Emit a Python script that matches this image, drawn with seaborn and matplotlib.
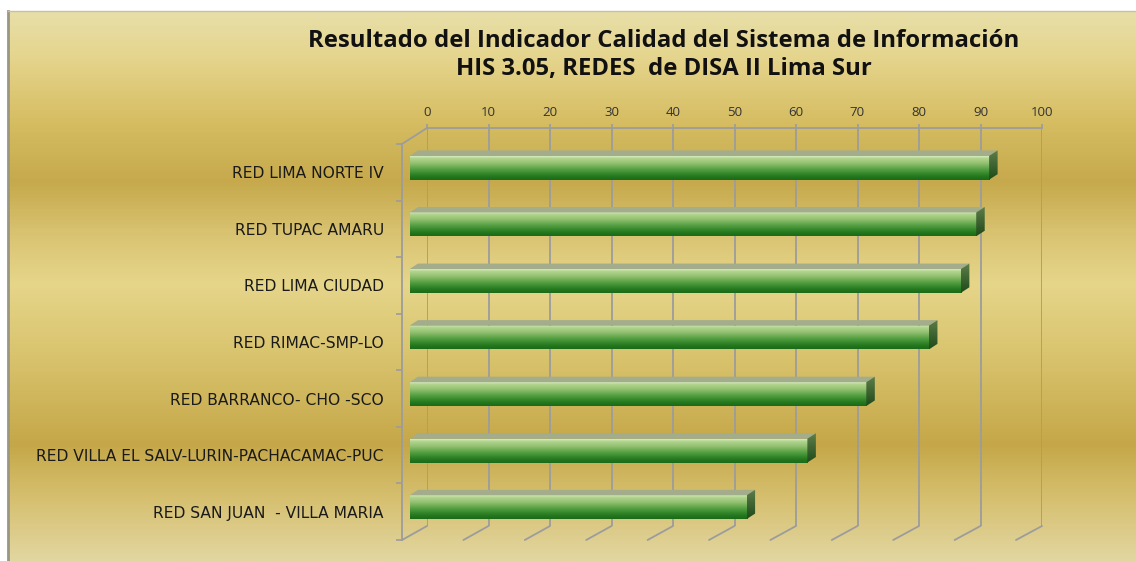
import numpy as np
import pandas as pd
import matplotlib
matplotlib.use("Agg")
import matplotlib.pyplot as plt
import seaborn as sns
from matplotlib.patches import Polygon, ConnectionPatch
from matplotlib.colors import LinearSegmentedColormap

# ---------------- data ----------------
categories = [
    "RED LIMA NORTE IV",
    "RED TUPAC AMARU",
    "RED LIMA CIUDAD",
    "RED RIMAC-SMP-LO",
    "RED BARRANCO- CHO -SCO",
    "RED VILLA EL SALV-LURIN-PACHACAMAC-PUC",
    "RED SAN JUAN  - VILLA MARIA",
]
values = [94.4, 92.3, 89.8, 84.6, 74.4, 64.8, 54.9]
x_ticks = [0, 10, 20, 30, 40, 50, 60, 70, 80, 90, 100]
title = "Resultado del Indicador Calidad del Sistema de Información\nHIS 3.05, REDES  de DISA II Lima Sur"

df = pd.DataFrame({"red": categories, "valor": values})

# ---------------- figure ----------------
sns.set_theme(style="white")
plt.rcParams["font.family"] = ["Open Sans", "DejaVu Sans"]

W, H = 1136, 561
fig = plt.figure(figsize=(W / 100, H / 100), dpi=100)
fig.patch.set_facecolor("white")


def rect(l, t, r, b):
    return [l / W, 1 - b / H, (r - l) / W, (b - t) / H]


# background gradient
bg = fig.add_axes(rect(8, 11, W, H), zorder=0)
stops = [(0.00, "#e8dfa8"), (0.09, "#e4d38a"), (0.20, "#d6bd62"), (0.31, "#c6a94c"),
         (0.40, "#d8c270"), (0.495, "#e6d68a"), (0.635, "#d8c26c"), (0.79, "#c5a748"),
         (0.89, "#d6c070"), (1.00, "#e2d6a0")]
cmap_bg = LinearSegmentedColormap.from_list("bg", stops)
bg.imshow(np.linspace(0, 1, 400).reshape(-1, 1), cmap=cmap_bg, aspect="auto",
          extent=[0, 1, 1, 0], origin="upper")
bg.set_xlim(0, 1)
bg.set_ylim(1, 0)
bg.set_xticks([])
bg.set_yticks([])
for s in bg.spines.values():
    s.set_visible(False)
bg.spines["left"].set_visible(True)
bg.spines["left"].set_color("#9a9684")
bg.spines["left"].set_linewidth(2)
bg.spines["top"].set_visible(True)
bg.spines["top"].set_color("#c8c0a0")
bg.spines["top"].set_linewidth(1)

grid_col = "#9c9c9c"

# back wall (gridlines + top tick labels)
back = fig.add_axes(rect(427, 128, 1042, 526), zorder=1)
back.patch.set_alpha(0)
back.set_xlim(0, 100)
back.set_ylim(0, 1)
back.set_xticks(x_ticks)
back.set_yticks([])
back.xaxis.tick_top()
back.tick_params(axis="x", direction="out", length=3, width=1.2, color=grid_col,
                 labelsize=9.5, labelcolor="#333333", pad=3.5)
back.grid(axis="x", color=grid_col, linewidth=1.3)
for s in back.spines.values():
    s.set_visible(False)
back.spines["top"].set_visible(True)
back.spines["top"].set_color(grid_col)
back.spines["top"].set_linewidth(1.3)

# front plane (category axis)
front = fig.add_axes(rect(402, 144, 1016, 540), zorder=2)
front.patch.set_alpha(0)
front.set_xlim(0, 100)
front.set_ylim(len(categories) - 0.5, -0.5)
front.set_xticks([])
front.set_yticks(range(len(categories)))
front.set_yticklabels(categories, family=["DejaVu Sans"])
front.set_yticks(np.arange(-0.5, len(categories)), minor=True)
front.tick_params(axis="y", which="major", length=0, pad=13, labelsize=11.2,
                  labelcolor="#1a1a1a")
front.tick_params(axis="y", which="minor", length=4, width=1.2, color=grid_col, left=True)
for s in front.spines.values():
    s.set_visible(False)
front.spines["left"].set_visible(True)
front.spines["left"].set_color(grid_col)
front.spines["left"].set_linewidth(1.3)

# 3D connectors: floor diagonals and top-left diagonal
for t in x_ticks:
    fig.add_artist(ConnectionPatch(xyA=(t, len(categories) - 0.5), coordsA=front.transData,
                                   xyB=(t, 0), coordsB=back.transData,
                                   color=grid_col, linewidth=1.3, zorder=1.5))
fig.add_artist(ConnectionPatch(xyA=(0, -0.5), coordsA=front.transData,
                               xyB=(0, 1), coordsB=back.transData,
                               color=grid_col, linewidth=1.3, zorder=1.5))

# bar plane
ax = fig.add_axes(rect(409.5, 139.5, 1023.5, 535.5), zorder=3)
ax.patch.set_alpha(0)
bar_w = 0.42
sns.barplot(data=df, x="valor", y="red", orient="h", width=bar_w, ax=ax,
            color="#3a8a30", linewidth=0, saturation=1)
ax.set_xlim(0, 100)
ax.set_ylim(len(categories) - 0.5, -0.5)
ax.set_axis_off()

# depth offsets (px -> data units)
ax_w_px, ax_h_px = 614.0, 396.0
ddx = 8.5 * 100 / ax_w_px
ddy = 5.5 * len(categories) / ax_h_px

face_stops = [(0.0, "#d6ecc0"), (0.08, "#b4d690"), (0.30, "#92c070"),
              (0.60, "#4c9a3c"), (0.85, "#24781e"), (1.0, "#1b6a18")]
cmap_face = LinearSegmentedColormap.from_list("face", face_stops)
side_stops = [(0.0, "#5e7e4a"), (1.0, "#1f4a1a")]
cmap_side = LinearSegmentedColormap.from_list("side", side_stops)

grad = np.linspace(0, 1, 100).reshape(-1, 1)
for p in list(ax.patches):
    x0, y0, w, h = p.get_x(), p.get_y(), p.get_width(), p.get_height()
    x1 = x0 + w
    p.set_facecolor("none")
    im = ax.imshow(grad, cmap=cmap_face, aspect="auto", origin="upper",
                   extent=[x0, x1, y0 + h, y0], zorder=3)
    im.set_clip_path(p)
    # top face
    ax.add_patch(Polygon([(x0, y0), (x1, y0), (x1 + ddx, y0 - ddy), (x0 + ddx, y0 - ddy)],
                         closed=True, facecolor="#a3ad8c", edgecolor="none", zorder=4))
    # side face
    side = Polygon([(x1, y0), (x1 + ddx, y0 - ddy), (x1 + ddx, y0 + h - ddy), (x1, y0 + h)],
                   closed=True, facecolor="none", edgecolor="none", zorder=4)
    ax.add_patch(side)
    ims = ax.imshow(grad, cmap=cmap_side, aspect="auto", origin="upper",
                    extent=[x1, x1 + ddx, y0 + h, y0 - ddy], zorder=4)
    ims.set_clip_path(side)

ax.set_xlim(0, 100)
ax.set_ylim(len(categories) - 0.5, -0.5)

# title
fig.text(664 / W, 1 - 55 / H, title, ha="center", va="center", fontsize=17.2,
         fontweight="bold", color="#111111", linespacing=1.2)

fig.savefig("out.png", dpi=100)
